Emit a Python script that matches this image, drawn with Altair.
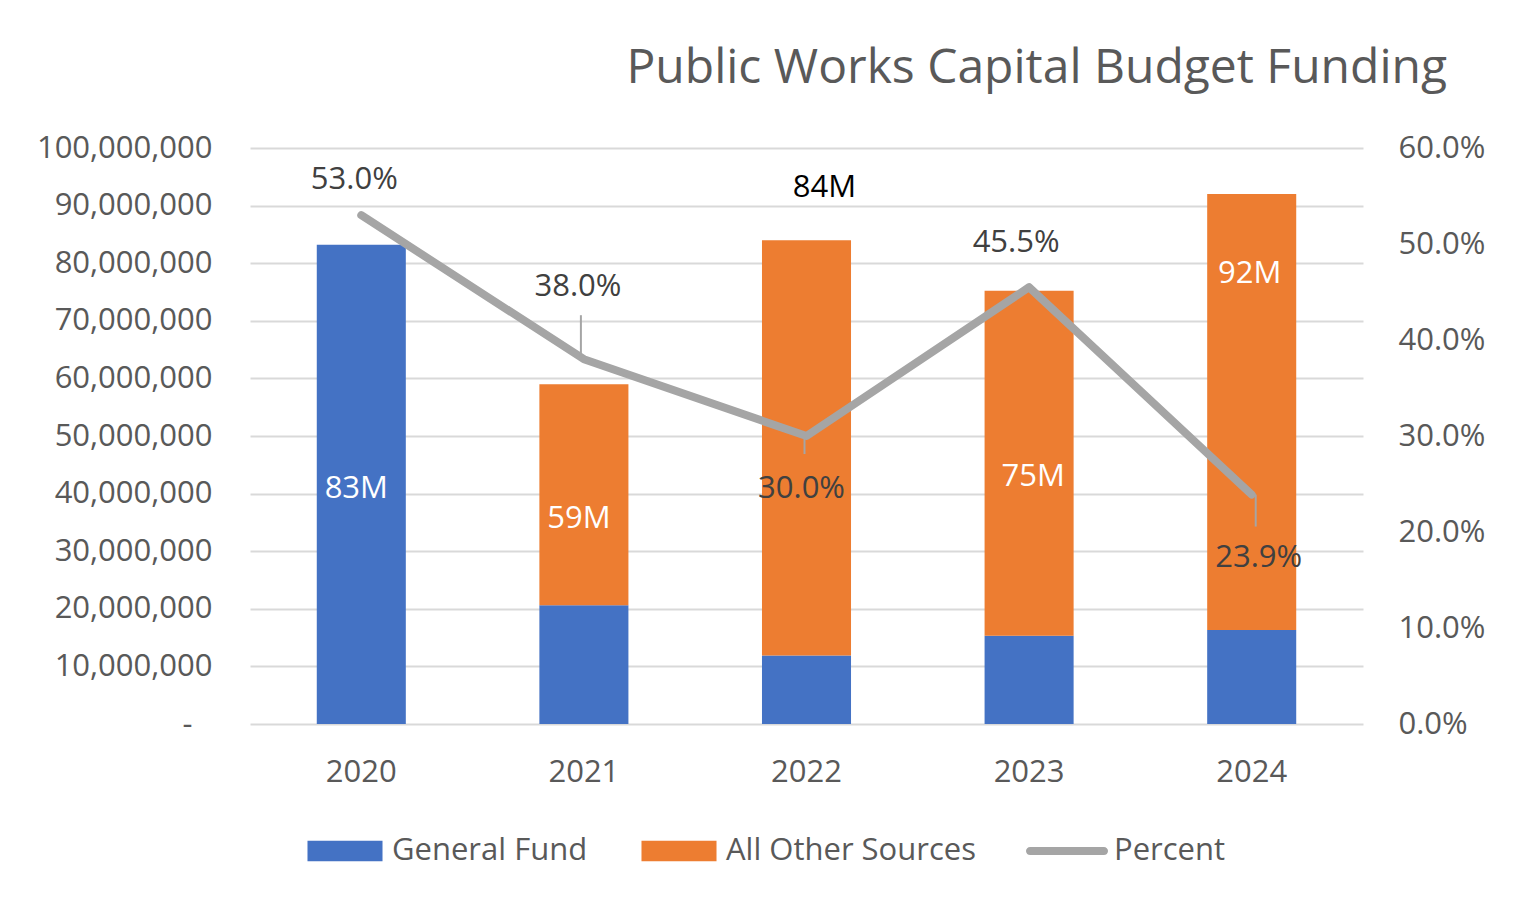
import altair as alt
import pandas as pd

# ---------------- data ----------------
years = ["2020", "2021", "2022", "2023", "2024"]
general_fund = [83_200_000, 20_600_000, 11_900_000, 15_300_000, 16_300_000]
totals = [83_200_000, 59_000_000, 84_000_000, 75_200_000, 92_000_000]
percent = [0.530, 0.380, 0.300, 0.455, 0.239]
total_labels = ["83M", "59M", "84M", "75M", "92M"]
pct_labels = ["53.0%", "38.0%", "30.0%", "45.5%", "23.9%"]
series_names = ["General Fund", "All Other Sources", "Percent"]

# ---------------- styles ----------------
FONT = "Open Sans"
TXT = "#595959"
FS = 31
colors = ["#4472C4", "#ED7D31", "#A5A5A5"]
bar_label_style = {
    "2020": (-5, 244, "white"),
    "2021": (-5, 135, "white"),
    "2022": (18, -52, "black"),
    "2023": (4, 186, "white"),
    "2024": (-2, 80, "white"),
}
pct_label_style = {
    "2020": (-7, -35),
    "2021": (-6, -72),
    "2022": (-5, 53),
    "2023": (-13, -44),
    "2024": (7, 63),
}
leader_style = {  # dx, start offset, end offset
    "2021": (-3, -2, -44),
    "2022": (-2, 0, 18),
    "2024": (4, 0, 32),
}

other = [t - g for t, g in zip(totals, general_fund)]
bar_df = pd.DataFrame(
    [{"year": y, "series": "General Fund", "value": g, "order": 0} for y, g in zip(years, general_fund)]
    + [{"year": y, "series": "All Other Sources", "value": o, "order": 1} for y, o in zip(years, other)]
)
tot_df = pd.DataFrame({"year": years, "total": totals, "label": total_labels})
line_df = pd.DataFrame({"year": years, "pct": percent, "label": pct_labels, "series": "Percent"})

x_enc = alt.X(
    "year:N",
    sort=years,
    title=None,
    scale=alt.Scale(domain=years, paddingInner=0.6, paddingOuter=0.3),
    axis=alt.Axis(labelFontSize=FS, labelFont=FONT, labelColor=TXT, labelPadding=33,
                  ticks=False, domain=False, labelAngle=0, grid=False),
)

RECT = "M-0.915,-0.25L0.915,-0.25L0.915,0.25L-0.915,0.25Z"
LINE = "M-0.9,-0.1L0.9,-0.1A0.1,0.1 0 0 1 0.9,0.1L-0.9,0.1A0.1,0.1 0 0 1 -0.9,-0.1Z"

legend = alt.Legend(
    title=None, orient="none", legendX=54, legendY=662, direction="horizontal",
    symbolSize=82 * 82, labelFontSize=FS, labelFont=FONT, labelColor=TXT, labelLimit=500,
    labelOffset=6, columnPadding=50, padding=0, symbolStrokeWidth=0, symbolOpacity=1,
)
color_scale = alt.Scale(domain=series_names, range=colors)
shape_scale = alt.Scale(domain=series_names, range=[RECT, RECT, LINE])

left_axis = alt.Axis(
    values=list(range(0, 100_000_001, 10_000_000)),
    labelExpr="datum.value == 0 ? '-' : format(datum.value, ',')",
    grid=True, gridColor="#D9D9D9", gridWidth=2, ticks=False, domain=False,
    labelPadding={"condition": {"test": "datum.value == 0", "value": 58}, "value": 38},
    labelFontSize=FS, labelFont=FONT, labelColor=TXT,
)

bars = alt.Chart(bar_df).mark_bar().encode(
    x=x_enc,
    y=alt.Y(
        "value:Q", stack="zero", title=None,
        scale=alt.Scale(domain=[0, 100_000_000], nice=False, zero=True),
        axis=left_axis,
    ),
    color=alt.Color("series:N", scale=color_scale, legend=legend),
    order=alt.Order("order:Q"),
)

bar_labels = []
for yr, (dx, dy, col) in bar_label_style.items():
    bar_labels.append(
        alt.Chart(tot_df).transform_filter(alt.datum.year == yr)
        .mark_text(dx=dx, dy=dy, fontSize=FS, font=FONT, color=col, baseline="middle")
        .encode(x=x_enc, y=alt.Y("total:Q", axis=left_axis), text="label:N")
    )

right_axis = alt.Axis(
    orient="right", values=[0, 0.1, 0.2, 0.3, 0.4, 0.5, 0.6], format=".1%",
    grid=False, ticks=False, domain=False, labelPadding=35,
    labelFontSize=FS, labelFont=FONT, labelColor=TXT,
)

line = alt.Chart(line_df).mark_line(strokeWidth=8, strokeCap="round", strokeJoin="round").encode(
    x=x_enc,
    y=alt.Y("pct:Q", title=None, scale=alt.Scale(domain=[0, 0.6], nice=False), axis=right_axis),
    color=alt.Color("series:N", scale=color_scale, legend=legend),
)

# invisible points, only to give the legend its symbol shapes
legend_pts = alt.Chart(line_df).mark_point(filled=True, opacity=0).encode(
    x=x_enc,
    y=alt.Y("pct:Q", axis=right_axis),
    color=alt.Color("series:N", scale=color_scale, legend=legend),
    shape=alt.Shape("series:N", scale=shape_scale, legend=legend),
)

leaders = []
for yr, (dx, y1, y2) in leader_style.items():
    leaders.append(
        alt.Chart(line_df).transform_filter(alt.datum.year == yr)
        .mark_rule(color="#A5A5A5", strokeWidth=2, xOffset=dx, yOffset=y1, y2Offset=y2)
        .encode(x=x_enc, y=alt.Y("pct:Q", axis=right_axis), y2=alt.Y2("pct"))
    )

pct_text = []
for yr, (dx, dy) in pct_label_style.items():
    pct_text.append(
        alt.Chart(line_df).transform_filter(alt.datum.year == yr)
        .mark_text(dx=dx, dy=dy, fontSize=FS, font=FONT, color="#404040", baseline="middle")
        .encode(x=x_enc, y=alt.Y("pct:Q", axis=right_axis), text="label:N")
    )

left = alt.layer(bars, *bar_labels)
right = alt.layer(line, legend_pts, *leaders, *pct_text)

chart = (
    alt.layer(left, right)
    .resolve_scale(y="independent")
    .properties(
        width=1113, height=576,
        padding={"left": 242, "top": 140, "right": 145, "bottom": 160},
        autosize=alt.AutoSizeParams(type="none"),
        title=alt.TitleParams(
            "Public Works Capital Budget Funding", anchor="end", frame="group", dx=84,
            fontSize=48, font=FONT, fontWeight="normal", color=TXT, offset=39,
        ),
        background="white",
    )
    .configure_view(stroke=None)
)

chart.save("out.html", embed_options={"renderer": "svg", "actions": False})
